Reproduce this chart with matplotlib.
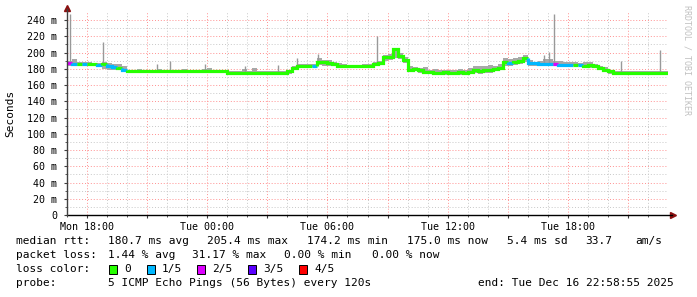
import numpy as np
import matplotlib
matplotlib.use('Agg')
import matplotlib.pyplot as plt
from matplotlib.patches import Rectangle

plt.rcParams['font.family'] = 'DejaVu Sans Mono'

# one value every 15 minutes, starting Mon 17:00
step_h = 0.25
median_ms = [
    187, 186, 186, 186, 186, 186, 185, 186, 183, 182, 181, 179,
    177, 177, 177, 177, 177, 177, 177, 177, 177, 177, 177, 177,
    177, 177, 177, 177, 177, 177, 177, 177,
    175, 175, 175, 175, 175, 175, 175, 175, 175, 175, 175, 175,
    177, 181, 184, 184, 184, 184, 189, 188, 187, 186, 184, 183,
    183, 183, 183, 183, 184, 186, 187, 194, 195, 204, 196, 191,
    179, 180, 178, 176, 176, 175, 175, 176, 175, 175, 176, 175,
    176, 178, 177, 179, 178, 180, 181, 188, 187, 189, 190, 193,
    187, 187, 186, 186, 186, 186, 185, 185, 185, 185, 185, 184,
    185, 184, 181, 179, 177, 175, 175, 175, 175, 175, 175, 175,
    175, 175, 175, 175,
]
loss_count = [
    2, 1, 0, 1, 0, 0, 1, 0, 1, 1, 0, 1,
    0, 0, 0, 0, 0, 0, 0, 0, 0, 0, 0, 0,
    0, 0, 0, 0, 0, 0, 0, 0,
    0, 0, 0, 0, 0, 0, 0, 0, 0, 0, 0, 0,
    0, 0, 0, 0, 0, 1, 0, 0, 0, 0, 0, 0,
    0, 0, 0, 0, 0, 0, 0, 0, 0, 0, 0, 0,
    0, 0, 0, 0, 0, 0, 0, 0, 0, 0, 0, 0,
    0, 0, 0, 0, 0, 0, 0, 0, 1, 0, 0, 0,
    1, 1, 1, 1, 1, 2, 1, 1, 1, 0, 1, 0,
    0, 0, 0, 0, 0, 0, 0, 0, 0, 0, 0, 0,
    0, 0, 0, 0,
]
smoke_lo = [
    184, 184, 184, 184, 184, 184, 182, 180, 179, 178, 178, 176,
    175, 175, 175, 175, 175, 175, 175, 175, 175, 175, 175, 175,
    175, 175, 175, 175, 175, 175, 175, 175,
    173, 173, 173, 173, 173, 173, 173, 173, 173, 173, 173, 173,
    174, 179, 182, 182, 182, 182, 185, 184, 184, 183, 182, 181,
    181, 181, 181, 181, 182, 183, 185, 190, 191, 193, 192, 187,
    177, 177, 175, 174, 174, 173, 173, 173, 173, 173, 173, 173,
    174, 175, 174, 175, 175, 177, 178, 183, 184, 185, 186, 188,
    184, 184, 184, 184, 184, 184, 183, 183, 183, 183, 183, 181,
    181, 181, 178, 176, 174, 173, 173, 173, 173, 173, 173, 173,
    173, 173, 173, 173,
]
smoke_hi = [
    190, 192, 188, 189, 188, 187, 187, 188, 187, 186, 186, 184,
    179, 179, 180, 179, 179, 179, 180, 179, 179, 179, 179, 180,
    179, 179, 179, 180, 181, 179, 179, 179,
    177, 177, 177, 180, 177, 181, 177, 177, 177, 177, 177, 177,
    178, 184, 186, 186, 186, 186, 193, 191, 191, 189, 187, 186,
    185, 185, 185, 186, 186, 189, 190, 197, 198, 206, 199, 195,
    184, 182, 181, 182, 179, 180, 178, 179, 178, 178, 180, 178,
    181, 184, 184, 183, 185, 184, 186, 193, 192, 193, 194, 197,
    191, 189, 190, 192, 192, 190, 190, 189, 188, 188, 187, 188,
    188, 186, 184, 182, 179, 177, 177, 177, 177, 177, 177, 177,
    177, 177, 177, 177,
]
spike_hours = [0.15, 1.8, 4.5, 5.15, 6.9, 8.9, 10.55, 11.5, 12.55, 15.45, 23.8, 24.05, 24.3, 27.65, 29.6]
spike_top = [247, 213, 186, 190, 186, 183, 185, 193, 198, 220, 197, 201, 247, 190, 203]

tick_hours = [1, 7, 13, 19, 25]
tick_labels = ['Mon 18:00', 'Tue 00:00', 'Tue 06:00', 'Tue 12:00', 'Tue 18:00']
y_ticks = [0, 20, 40, 60, 80, 100, 120, 140, 160, 180, 200, 220, 240]
y_labels = ['0', '20 m', '40 m', '60 m', '80 m', '100 m', '120 m', '140 m',
            '160 m', '180 m', '200 m', '220 m', '240 m']
loss_colors = ['#26ff00', '#00b8ff', '#dd00ff', '#5a00ff', '#ff0000']
loss_names = ['0', '1/5', '2/5', '3/5', '4/5']

W, H = 697, 297
fig = plt.figure(figsize=(W / 100, H / 100), dpi=100)
ax = fig.add_axes([67 / W, 82 / H, 600.6 / W, 203 / H])
x_end = 29.98
ax.set_xlim(0, x_end)
ax.set_ylim(0, 250)

# grid
dot = (0, (1, 2))
for h in range(0, 30):
    if h % 3 == 1:
        ax.axvline(h, color='#ff9090', lw=0.7, ls=dot, zorder=0)
    elif h > 0:
        ax.axvline(h, color='#c8c8c8', lw=0.7, ls=dot, zorder=0)
for v in range(10, 250, 10):
    if v % 20 == 0:
        ax.axhline(v, color='#ff9090', lw=0.7, ls=dot, zorder=0)
    else:
        ax.axhline(v, color='#c8c8c8', lw=0.7, ls=dot, zorder=0)

hours = np.arange(len(median_ms)) * step_h
xs_fill = np.append(hours, x_end)
lo_fill = np.append(smoke_lo, smoke_lo[-1])
hi_fill = np.append(smoke_hi, smoke_hi[-1])
ax.fill_between(xs_fill, lo_fill, hi_fill, step='post', color='#a8a8a8', lw=0, zorder=2)
spike_base = [median_ms[min(int(h / step_h), len(median_ms) - 1)] for h in spike_hours]
ax.vlines(spike_hours, spike_base, spike_top, color='#999999', lw=1.0, zorder=2)

# median line coloured by loss, one step path per run of equal loss
i = 0
n = len(median_ms)
while i < n:
    j = i
    while j + 1 < n and loss_count[j + 1] == loss_count[i]:
        j += 1
    xs, ys = [], []
    if i > 0:
        xs.append(hours[i]); ys.append(median_ms[i - 1])
    for k in range(i, j + 1):
        xs += [hours[k], min(hours[k] + step_h, x_end)]
        ys += [median_ms[k], median_ms[k]]
    ax.plot(xs, ys, color=loss_colors[loss_count[i]], lw=2.3,
            solid_capstyle='butt', solid_joinstyle='miter', zorder=3)
    i = j + 1

# axes
for s in ax.spines.values():
    s.set_visible(False)
ax.plot([0, 1.007], [0, 0], color='black', lw=1.0, transform=ax.transAxes, clip_on=False, zorder=4)
ax.plot([0, 0], [0, 1.015], color='#404040', lw=1.0, transform=ax.transAxes, clip_on=False, zorder=4)
ax.plot([1.009], [0], marker='>', ms=4, color='#8b1010', transform=ax.transAxes, clip_on=False)
ax.plot([0], [1.02], marker='^', ms=4, color='#8b1010', transform=ax.transAxes, clip_on=False)

ax.set_xticks(range(1, 30, 3))
ax.set_xticklabels([tick_labels[tick_hours.index(h)] if h in tick_hours else '' for h in range(1, 30, 3)])
ax.set_xticks(range(0, 30), minor=True)
ax.set_yticks(y_ticks)
ax.set_yticklabels(y_labels)
ax.set_yticks(range(10, 250, 20), minor=True)
ax.tick_params(axis='both', which='major', labelsize=7.2, length=2, width=0.8, color='#404040', pad=3)
ax.tick_params(axis='both', which='minor', length=1.5, width=0.6, color='#404040')
ax.tick_params(axis='y', pad=5)
fig.text(10 / W, 1 - 113 / H, 'Seconds', rotation=90, fontsize=8, ha='center', va='center')
fig.text(687 / W, 1 - 5 / H, 'RRDTOOL / TOBI OETIKER', rotation=270, fontsize=6,
         color='#c0c0c0', ha='center', va='top')

# legend text
fs = 8


def put(x, y, s):
    fig.text(x / W, 1 - y / H, s, fontsize=fs, ha='left', va='center')


y1, y2, y3, y4 = 241, 255, 269, 283
put(16, y1, 'median rtt:')
for x, s in [(108, '180.7 ms avg'), (207, '205.4 ms max'), (307, '174.2 ms min'),
             (407, '175.0 ms now'), (507, '5.4 ms sd'), (585, '33.7'), (635, 'am/s')]:
    put(x, y1, s)
put(16, y2, 'packet loss:')
for x, s in [(108, '1.44 % avg'), (192, '31.17 % max'), (284, '0.00 % min'), (372, '0.00 % now')]:
    put(x, y2, s)
put(16, y3, 'loss color:')
box_x = [109, 147, 197, 248, 299]
for bx, c, name in zip(box_x, loss_colors, loss_names):
    fig.add_artist(Rectangle((bx / W, 1 - (y3 + 4.5) / H), 8 / W, 9 / H,
                             transform=fig.transFigure, fc=c, ec='black', lw=0.7))
    put(bx + 15, y3, name)
put(16, y4, 'probe:')
put(108, y4, '5 ICMP Echo Pings (56 Bytes) every 120s')
put(478, y4, 'end: Tue Dec 16 22:58:55 2025')

fig.savefig('out.png', dpi=100)
